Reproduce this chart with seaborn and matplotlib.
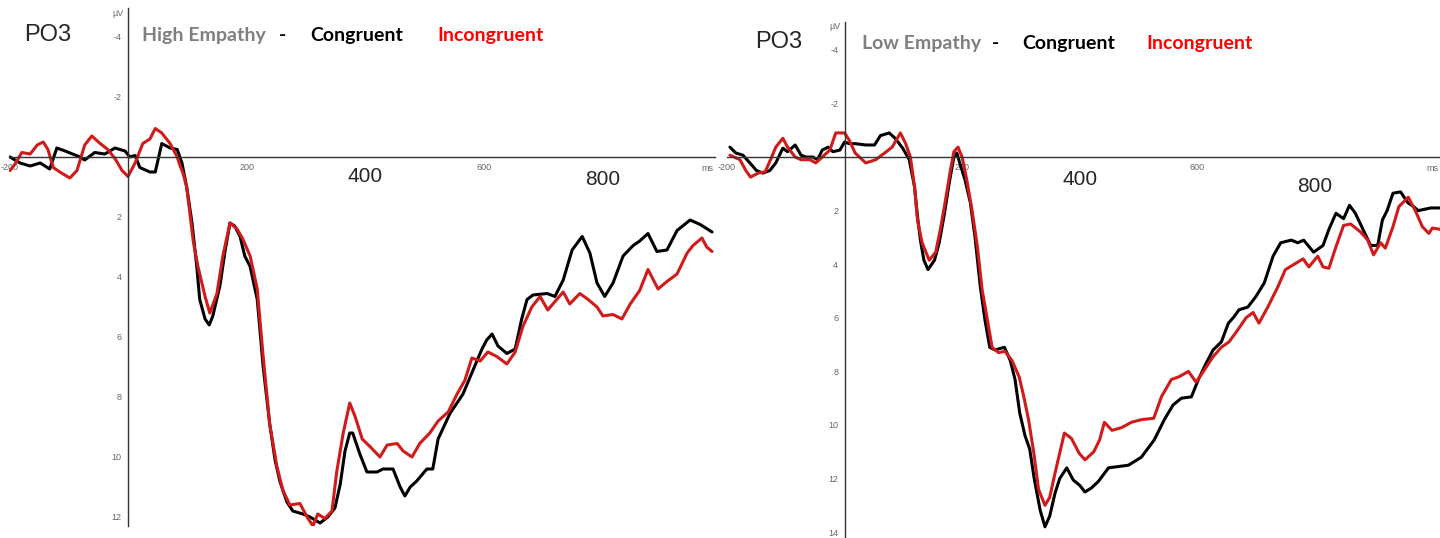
import numpy as np
import pandas as pd
import matplotlib
matplotlib.use('Agg')
import matplotlib.pyplot as plt
from matplotlib.ticker import MultipleLocator
import seaborn as sns

# ERP waveforms at PO3: time (ms), amplitude (uV, positive down)
hi_cong_ms = [-199, -182, -165, -148, -132, -120, -106, -81, -73, -56, -39, -22, -5, 3, 12, 20, 37, 46, 57, 71,
              83, 91, 99, 108, 116, 121, 130, 137, 143, 155, 164, 172, 180, 189, 197, 206, 218, 228, 239, 248,
              256, 268, 278, 295, 307, 324, 337, 349, 358, 366, 374, 379, 391, 403, 420, 430, 447, 459, 467, 476,
              487, 504, 514, 523, 543, 565, 582, 597, 605, 614, 624, 639, 653, 664, 673, 683, 707, 720, 734, 749,
              766, 779, 791, 804, 818, 835, 852, 863, 877, 892, 909, 926, 948, 965, 985]
hi_cong_uv = [0, 0.2, 0.3, 0.2, 0.4, -0.3, -0.2, 0, 0.1, -0.15, -0.1, -0.3, -0.2, 0, -0.05, 0.35, 0.5, 0.5, -0.45, -0.3,
              -0.25, 0.2, 1.0, 2.2, 3.65, 4.75, 5.4, 5.6, 5.3, 4.3, 3.1, 2.2, 2.3, 2.65, 3.3, 3.65, 4.75, 7.0, 8.9, 10.1,
              10.8, 11.5, 11.8, 11.9, 12.0, 12.2, 12.0, 11.7, 10.9, 9.8, 9.2, 9.2, 9.9, 10.5, 10.5, 10.4, 10.4, 11.0, 11.3, 11.0,
              10.8, 10.4, 10.4, 9.4, 8.55, 7.9, 7.1, 6.4, 6.1, 5.9, 6.3, 6.55, 6.4, 5.4, 4.75, 4.6, 4.55, 4.65, 4.1, 3.1,
              2.65, 3.2, 4.2, 4.65, 4.2, 3.3, 2.95, 2.8, 2.55, 3.15, 3.1, 2.45, 2.1, 2.25, 2.5]

hi_incong_ms = [-199, -191, -179, -165, -153, -143, -135, -126, -115, -98, -86, -73, -61, -47, -34, -22, -10, 0, 12, 25,
                37, 46, 57, 71, 83, 88, 93, 99, 110, 118, 130, 138, 150, 160, 172, 184, 194, 206, 218, 228,
                239, 251, 261, 273, 290, 302, 312, 320, 332, 344, 352, 363, 374, 383, 395, 408, 425, 437, 454, 464,
                479, 492, 509, 523, 540, 555, 568, 580, 594, 607, 622, 639, 653, 666, 681, 695, 708, 723, 734, 745,
                762, 776, 791, 801, 818, 833, 847, 863, 877, 894, 909, 926, 943, 953, 968, 976, 985]
hi_incong_uv = [0.45, 0.25, -0.15, -0.1, -0.4, -0.5, -0.25, 0.35, 0.5, 0.7, 0.45, -0.4, -0.7, -0.45, -0.25, 0.05, 0.45, 0.65, 0.2, -0.45,
                -0.6, -0.95, -0.8, -0.45, 0, 0.3, 0.55, 1.0, 2.8, 3.65, 4.65, 5.2, 4.55, 3.3, 2.2, 2.4, 2.75, 3.3, 4.4, 6.65,
                8.9, 10.3, 11.1, 11.6, 11.55, 12.0, 12.3, 11.9, 12.05, 11.8, 10.5, 9.2, 8.2, 8.65, 9.4, 9.65, 10.0, 9.6, 9.55, 9.8,
                10.0, 9.55, 9.2, 8.8, 8.5, 7.9, 7.45, 6.7, 6.8, 6.5, 6.65, 6.9, 6.5, 5.65, 5.0, 4.65, 5.1, 4.75, 4.5, 4.9,
                4.55, 4.75, 5.0, 5.3, 5.25, 5.4, 4.9, 4.45, 3.75, 4.4, 4.15, 3.9, 3.2, 2.95, 2.7, 3.0, 3.15]

lo_cong_ms = [-195, -185, -173, -161, -150, -139, -127, -117, -105, -97, -84, -74, -66, -54, -46, -38, -28, -20, -8, 0,
              8, 18, 36, 51, 61, 76, 86, 99, 110, 119, 124, 129, 135, 142, 153, 161, 170, 178, 186, 191,
              196, 205, 214, 222, 231, 239, 247, 256, 272, 282, 290, 298, 307, 315, 323, 333, 341, 349, 358, 366,
              378, 389, 400, 409, 420, 432, 449, 483, 505, 527, 544, 559, 573, 590, 602, 615, 627, 641, 653, 663,
              671, 686, 700, 714, 729, 742, 760, 771, 781, 798, 814, 824, 836, 849, 859, 869, 882, 895, 907, 915,
              923, 933, 946, 958, 968, 976, 997, 1014]
lo_cong_uv = [-0.37, -0.15, -0.07, 0.22, 0.5, 0.6, 0.5, 0.22, -0.33, -0.2, -0.45, -0.07, 0, 0, 0.1, -0.26, -0.37, -0.2, -0.26, -0.56,
              -0.5, -0.5, -0.45, -0.45, -0.8, -0.9, -0.7, -0.33, 0.1, 1.1, 2.2, 3.1, 3.85, 4.2, 3.85, 3.2, 2.1, 0.97, 0, -0.15,
              0.22, 0.86, 1.7, 3.0, 4.85, 6.1, 7.1, 7.2, 7.1, 7.6, 8.3, 9.55, 10.4, 10.9, 12.05, 13.2, 13.8, 13.4, 12.55, 12.0,
              11.6, 12.05, 12.25, 12.5, 12.35, 12.1, 11.6, 11.5, 11.2, 10.55, 9.8, 9.25, 9.0, 8.95, 8.3, 7.7, 7.2, 6.9, 6.2, 5.95,
              5.7, 5.6, 5.2, 4.7, 3.7, 3.2, 3.1, 3.2, 3.1, 3.55, 3.3, 2.7, 2.1, 2.3, 1.8, 2.1, 2.7, 3.3, 3.3, 2.35,
              2.0, 1.35, 1.3, 1.7, 1.85, 2.0, 1.9, 1.9]

lo_incong_ms = [-195, -178, -168, -160, -147, -135, -125, -117, -105, -97, -84, -74, -59, -49, -38, -25, -15, 0, 8, 18,
                36, 53, 68, 81, 95, 104, 112, 119, 124, 132, 144, 155, 163, 171, 180, 186, 193, 200, 208, 217,
                226, 234, 242, 251, 262, 273, 285, 297, 305, 313, 322, 330, 341, 349, 358, 366, 374, 386, 399, 409,
                424, 434, 442, 455, 471, 488, 505, 526, 539, 556, 569, 585, 598, 612, 627, 641, 654, 669, 683, 695,
                705, 720, 737, 750, 765, 780, 790, 805, 814, 824, 836, 849, 861, 878, 890, 900, 912, 920, 933, 943,
                959, 971, 983, 994, 1000, 1014]
lo_incong_uv = [-0.07, 0.1, 0.5, 0.75, 0.6, 0.55, 0.05, -0.37, -0.7, -0.37, 0, 0.1, 0.1, 0.22, 0, -0.26, -0.9, -0.9, -0.63, -0.15,
                0.22, 0.1, -0.15, -0.37, -0.9, -0.5, 0, 1.1, 2.35, 3.2, 3.85, 3.55, 2.7, 1.7, 0.5, -0.2, -0.37, 0, 0.86, 2.0,
                3.35, 4.95, 5.95, 7.1, 7.3, 7.25, 7.6, 8.2, 8.95, 9.8, 11.05, 12.4, 13.0, 12.7, 11.8, 11.05, 10.3, 10.5, 11.05, 11.3,
                11.0, 10.55, 9.9, 10.2, 10.1, 9.9, 9.8, 9.75, 8.95, 8.3, 8.2, 8.0, 8.4, 7.95, 7.45, 7.1, 6.9, 6.45, 6.0, 5.8,
                6.2, 5.6, 4.85, 4.2, 4.0, 3.8, 4.1, 3.7, 4.1, 4.15, 3.35, 2.55, 2.5, 2.8, 3.1, 3.65, 3.2, 3.4, 2.6, 1.85,
                1.5, 2.0, 2.6, 2.85, 2.65, 2.7]

conditions = ['Congruent', 'Incongruent']
palette = {'Congruent': '#000000', 'Incongruent': '#d11a1a'}

sns.set_style('white')
plt.rcParams['font.family'] = ['Liberation Sans', 'DejaVu Sans']
plt.rcParams['axes.unicode_minus'] = False

frames = []
for grp, cond, t, v in [('High', 'Congruent', hi_cong_ms, hi_cong_uv),
                        ('High', 'Incongruent', hi_incong_ms, hi_incong_uv),
                        ('Low', 'Congruent', lo_cong_ms, lo_cong_uv),
                        ('Low', 'Incongruent', lo_incong_ms, lo_incong_uv)]:
    frames.append(pd.DataFrame({'ms': t, 'uv': v, 'group': grp, 'cond': cond}))
df = pd.concat(frames, ignore_index=True)

W, H = 1440, 538
fig = plt.figure(figsize=(W / 100, H / 100), dpi=100)
ax1 = fig.add_axes([9.4 / W, 1 - 526 / H, (715 - 9.4) / W, (526 - 8.5) / H])
ax2 = fig.add_axes([727 / W, 1 - 537 / H, (1440 - 727) / W, (537 - 22) / H])


def draw(ax, grp, xlim, ylim, yticks, big_y):
    sub = df[df.group == grp]
    sns.lineplot(data=sub, x='ms', y='uv', hue='cond', hue_order=conditions, palette=palette,
                 estimator=None, linewidth=2.2, legend=False, ax=ax)
    ax.set_xlim(*xlim)
    ax.set_ylim(*ylim)  # inverted: negative up
    ax.set_xlabel('')
    ax.set_ylabel('')
    for s in ['top', 'right']:
        ax.spines[s].set_visible(False)
    ax.spines['left'].set_position(('data', 0))
    ax.spines['bottom'].set_position(('data', 0))
    ax.spines['left'].set_color('#333333')
    ax.spines['bottom'].set_color('#333333')
    ax.spines['left'].set_linewidth(1.0)
    ax.spines['bottom'].set_linewidth(1.0)
    ax.set_yticks(yticks)
    ax.yaxis.set_minor_locator(MultipleLocator(1))
    ax.set_xticks([-200, 200, 400, 600, 800])
    ax.set_xticklabels(['-200', '200', '', '600', ''])
    ax.xaxis.set_minor_locator(MultipleLocator(100))
    ax.tick_params(axis='both', which='both', direction='out', length=3, width=0.6,
                   color='#777777', labelsize=6.5, labelcolor='#666666', pad=1.5)
    ax.tick_params(axis='both', which='minor', length=2)
    ax.set_facecolor('none')
    ax.annotate('µV', xy=(0, 1), xycoords=('data', 'axes fraction'), xytext=(-3, 0),
                textcoords='offset points', ha='right', va='top', fontsize=6.5, color='#666666')
    ax.annotate('ms', xy=(1, 0), xycoords=('axes fraction', 'data'), xytext=(-1, -5),
                textcoords='offset points', ha='right', va='top', fontsize=6.5, color='#666666')
    ax.text(400, big_y[0], '400', ha='center', va='center', fontsize=15)
    ax.text(800, big_y[1], '800', ha='center', va='center', fontsize=15)


draw(ax1, 'High', (-200, 990), (12.3, -4.95), [-4, -2, 2, 4, 6, 8, 10, 12], (0.65, 0.75))
draw(ax2, 'Low', (-195, 1013), (14.18, -5.04), [-4, -2, 2, 4, 6, 8, 10, 12, 14], (0.85, 1.1))

# headings
fig.text(24 / W, 1 - 35 / H, 'PO3', fontsize=17, va='center', ha='left')
fig.text(755 / W, 1 - 42 / H, 'PO3', fontsize=17, va='center', ha='left')

title_font = dict(fontsize=14, fontweight='bold', va='center', ha='left', family=['Lato', 'DejaVu Sans'])
for y, parts in [(35, [(142, 'High Empathy', '#7f7f7f'), (279, '-', '#000000'),
                       (310, 'Congruent', '#000000'), (437, 'Incongruent', '#ff0000')]),
                 (44, [(862, 'Low Empathy', '#7f7f7f'), (992, '-', '#000000'),
                       (1022, 'Congruent', '#000000'), (1146, 'Incongruent', '#ff0000')])]:
    for x, s, c in parts:
        fig.text(x / W, 1 - y / H, s, color=c, **title_font)

plt.savefig('out.png', dpi=100)
plt.close()
